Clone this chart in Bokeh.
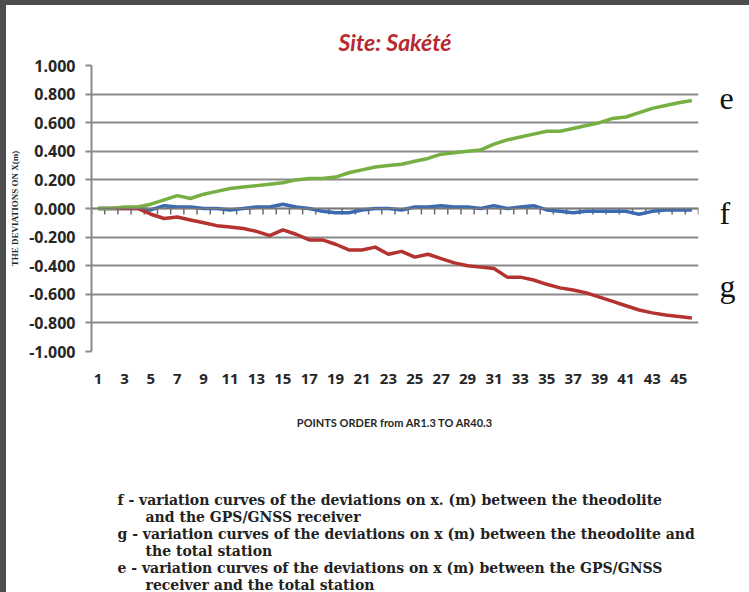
from bokeh.plotting import figure
from bokeh.models import Range1d, FixedTicker, NumeralTickFormatter, Span, LinearAxis, Title, Div
from bokeh.layouts import column, row
from bokeh.embed import file_html
from bokeh.resources import INLINE

# ---------------- data ----------------
points = list(range(1, 47))
x_tick_labels = list(range(1, 46, 2))
y_ticks = [-1.0, -0.8, -0.6, -0.4, -0.2, 0.0, 0.2, 0.4, 0.6, 0.8, 1.0]

f_values = [0.00, 0.00, 0.00, 0.00, -0.01, 0.02, 0.01, 0.01, 0.00, 0.00,
            -0.01, 0.00, 0.01, 0.01, 0.03, 0.01, 0.00, -0.02, -0.03, -0.03,
            -0.01, 0.00, 0.00, -0.01, 0.01, 0.01, 0.02, 0.01, 0.01, 0.00,
            0.02, 0.00, 0.01, 0.02, -0.01, -0.02, -0.03, -0.02, -0.02, -0.02,
            -0.02, -0.04, -0.02, -0.01, -0.01, -0.01]
g_values = [0.00, 0.00, 0.00, 0.00, -0.04, -0.07, -0.06, -0.08, -0.10, -0.12,
            -0.13, -0.14, -0.16, -0.19, -0.15, -0.18, -0.22, -0.22, -0.25, -0.29,
            -0.29, -0.27, -0.32, -0.30, -0.34, -0.32, -0.35, -0.38, -0.40, -0.41,
            -0.42, -0.48, -0.48, -0.50, -0.53, -0.555, -0.57, -0.59, -0.62, -0.65,
            -0.68, -0.71, -0.73, -0.745, -0.755, -0.765]
e_values = [0.00, 0.00, 0.01, 0.01, 0.03, 0.06, 0.09, 0.07, 0.10, 0.12,
            0.14, 0.15, 0.16, 0.17, 0.18, 0.20, 0.21, 0.21, 0.22, 0.25,
            0.27, 0.29, 0.30, 0.31, 0.33, 0.35, 0.38, 0.39, 0.40, 0.41,
            0.45, 0.48, 0.50, 0.52, 0.54, 0.54, 0.56, 0.58, 0.60, 0.63,
            0.64, 0.67, 0.70, 0.72, 0.74, 0.755]

series_names = ["f", "g", "e"]
series_values = [f_values, g_values, e_values]
series_colors = ["#3a6ab0", "#b4322f", "#76b043"]
label_levels = [-0.03, -0.54, 0.77]

title_text = "Site: Sakété"
y_title = "THE DEVIATIONS ON X(m)"
x_title = "POINTS ORDER from AR1.3 TO AR40.3"

legend_rows = [
    "f -  variation curves  of the deviations on x. (m) between the theodolite",
    "and  the GPS/GNSS receiver",
    "g -  variation curves of the deviations on x (m) between the theodolite and",
    "the total station",
    "e -  variation curves  of the deviations on x (m) between the GPS/GNSS",
    "receiver and the total station",
]

# ---------------- chart ----------------
GRID = "#8a8a8a"
TXT = "#262626"
EDGE = "#4d4d4d"

p = figure(width=743, height=587, output_backend="svg", toolbar_location=None,
           x_range=Range1d(points[0] - 0.5, points[-1] + 0.5),
           y_range=Range1d(y_ticks[0], y_ticks[-1]),
           min_border_left=85, min_border_right=51, min_border_top=60,
           min_border_bottom=241, background_fill_color="white",
           border_fill_color="white")
p.outline_line_color = None

p.title.text = title_text
p.title.align = "center"
p.title.text_font = "Lato"
p.title.text_font_style = "bold italic"
p.title.text_font_size = "23px"
p.title.text_color = "#b8282e"
p.title.standoff = 20

p.xgrid.visible = False
p.ygrid.ticker = FixedTicker(ticks=y_ticks)
p.ygrid.grid_line_color = GRID
p.ygrid.grid_line_width = 2

p.yaxis.ticker = FixedTicker(ticks=y_ticks)
p.yaxis.formatter = NumeralTickFormatter(format="0.000")
p.yaxis.axis_line_color = GRID
p.yaxis.axis_line_width = 2
p.yaxis.major_tick_line_color = GRID
p.yaxis.major_tick_line_width = 2
p.yaxis.major_tick_out = 6
p.yaxis.major_tick_in = 0
p.yaxis.minor_tick_line_color = None
p.yaxis.major_label_standoff = 10
p.yaxis.major_label_text_font = "Open Sans"
p.yaxis.major_label_text_font_style = "bold"
p.yaxis.major_label_text_font_size = "16px"
p.yaxis.major_label_text_color = TXT
p.yaxis.axis_label = y_title
p.yaxis.axis_label_text_font = "Liberation Serif"
p.yaxis.axis_label_text_font_style = "bold"
p.yaxis.axis_label_text_font_size = "9px"
p.yaxis.axis_label_text_color = TXT
p.yaxis.axis_label_standoff = 6

p.xaxis.ticker = FixedTicker(ticks=x_tick_labels)
p.xaxis.axis_line_color = None
p.xaxis.major_tick_line_color = None
p.xaxis.minor_tick_line_color = None
p.xaxis.major_label_standoff = 16
p.xaxis.major_label_text_font = "Open Sans"
p.xaxis.major_label_text_font_style = "bold"
p.xaxis.major_label_text_font_size = "15px"
p.xaxis.major_label_text_color = TXT
p.xaxis.axis_label = x_title
p.xaxis.axis_label_text_font = "Lato"
p.xaxis.axis_label_text_font_style = "bold"
p.xaxis.axis_label_text_font_size = "11px"
p.xaxis.axis_label_text_color = TXT
p.xaxis.axis_label_standoff = 29

# curve letters e / f / g as labels of a right-hand axis
right_axis = LinearAxis(ticker=FixedTicker(ticks=label_levels),
                        major_label_overrides={lev: nm for lev, nm in zip(label_levels, series_names)},
                        axis_line_color=None, major_tick_line_color=None,
                        minor_tick_line_color=None, major_label_standoff=15,
                        major_label_text_font="Liberation Serif",
                        major_label_text_font_size="32px",
                        major_label_text_color="#111111")
p.add_layout(right_axis, "right")

# legend text under the chart (a blank spacer title first)
p.add_layout(Title(text=" ", standoff=41, text_font="DejaVu Serif",
                   text_font_size="14px"), "below")
row_offsets = [26, 54, 26, 54, 26, 54]
for txt, off in zip(legend_rows, row_offsets):
    p.add_layout(Title(text=txt, align="left", offset=off, standoff=-1,
                       text_font="DejaVu Serif", text_font_style="bold",
                       text_font_size="14px", text_color="#222222"), "below")

# category axis crossing at zero (ticks between categories)
p.add_layout(Span(location=0, dimension="width", line_color="#7a7a7a", line_width=1.5))
bounds = [pt - 0.5 for pt in points] + [points[-1] + 0.5]
p.segment(x0=bounds, y0=[0.0] * len(bounds), x1=bounds, y1=[-0.042] * len(bounds),
          line_color="#6a6a6a", line_width=1.5)

for name, vals, col in zip(series_names, series_values, series_colors):
    p.line(points, vals, line_color=col, line_width=3.5, line_join="round")

# ---------------- dark edges (top and left) ----------------
top_edge = Div(text="", width=749, height=5, margin=0,
               styles={"background-color": EDGE})
left_edge = Div(text="", width=6, height=587, margin=0,
                styles={"background-color": EDGE})

layout = column(top_edge, row(left_edge, p, spacing=0), spacing=0)
open("out.html", "w").write(file_html(layout, INLINE))
